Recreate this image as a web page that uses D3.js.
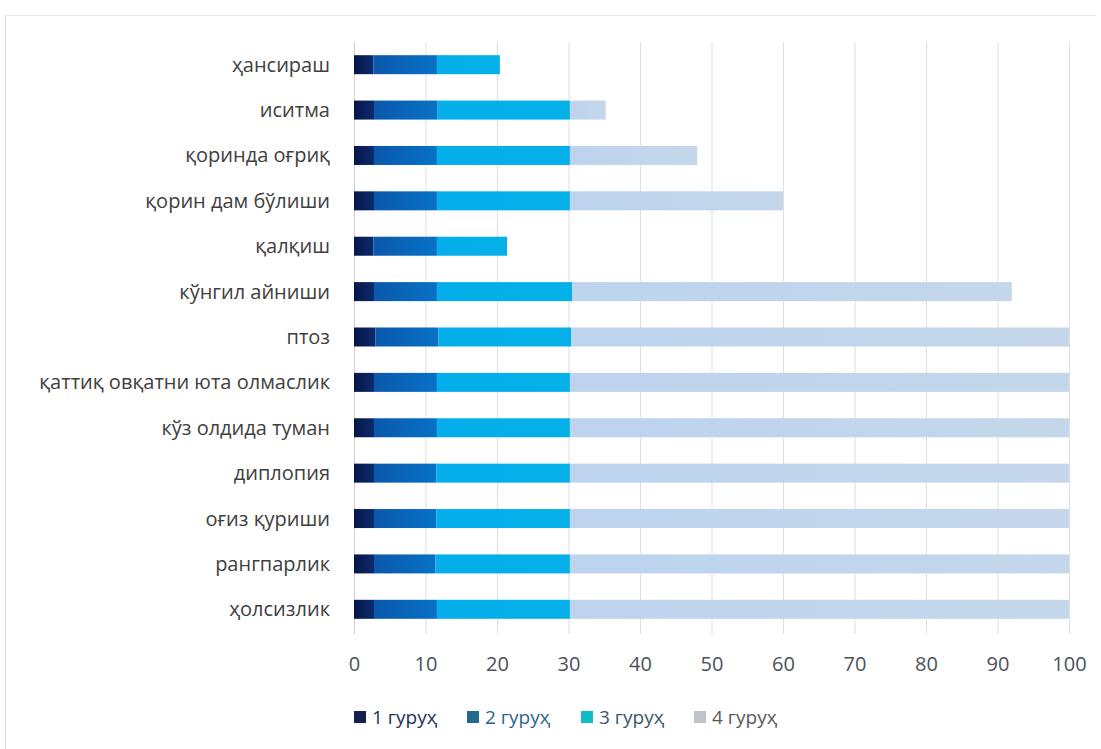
<!DOCTYPE html>
<html><head><meta charset="utf-8">
<script src="https://cdn.jsdelivr.net/npm/d3@7"></script>
<style>body{margin:0;background:#fff;} svg{display:block;}</style>
</head><body>
<svg id="chart" width="1101" height="749"></svg>
<script>
const categories = ["ҳансираш","иситма","қоринда оғриқ","қорин дам бўлиши","қалқиш","кўнгил айниши","птоз","қаттиқ овқатни юта олмаслик","кўз олдида туман","диплопия","оғиз қуриши","рангпарлик","ҳолсизлик"];
const seriesNames = ["1 гуруҳ","2 гуруҳ","3 гуруҳ","4 гуруҳ"];
const group1 = [2.7,2.8,2.8,2.8,2.7,2.8,3.0,2.8,2.8,2.8,2.8,2.8,2.8];
const group2 = [8.9,8.9,8.8,8.8,8.9,8.8,8.8,8.8,8.8,8.7,8.7,8.6,8.8];
const group3 = [8.8,18.5,18.6,18.6,9.8,18.9,18.6,18.6,18.6,18.7,18.7,18.8,18.6];
const group4 = [0,5.0,17.8,29.8,0,61.5,69.6,69.8,69.8,69.8,69.8,69.8,69.8];
const xTicks = [0,10,20,30,40,50,60,70,80,90,100];

const svg = d3.select("#chart");
const font = "'Open Sans', 'Noto Sans', sans-serif";
const margin = {left:354, right:32, top:42, bottom:117};
const W = 1101, H = 749;

// chart border (top and left edges visible)
svg.append("line").attr("x1",5).attr("x2",1096).attr("y1",15.5).attr("y2",15.5).attr("stroke","#e8e8e8");
svg.append("line").attr("x1",5.5).attr("x2",5.5).attr("y1",15).attr("y2",749).attr("stroke","#e0e0e0");

const x = d3.scaleLinear().domain([0,100]).range([margin.left, W - margin.right]);
const y = d3.scaleBand().domain(categories).range([margin.top, H - margin.bottom]).paddingInner(0.6).paddingOuter(0.3);

const data = categories.map((c,i)=>({cat:c, g1:group1[i], g2:group2[i], g3:group3[i], g4:group4[i]}));
const keys = ["g1","g2","g3","g4"];
const stack = d3.stack().keys(keys)(data);

// grid
svg.append("g").selectAll("line").data(xTicks).join("line")
  .attr("x1",d=>x(d)+0.5).attr("x2",d=>x(d)+0.5)
  .attr("y1",margin.top).attr("y2",H - margin.bottom+2)
  .attr("stroke",(d)=>d===0?"#cfcfcf":"#dcdfe6").attr("stroke-width",1);

// gradients
const defs = svg.append("defs");
const grads = [
  ["#07164a","#0b2a6e"],
  ["#0a58ac","#0872c6"],
  ["#04aeea","#05b0e8"],
  ["#bdd3ee","#c4d7ea"]
];
grads.forEach((g,i)=>{
  const lg = defs.append("linearGradient").attr("id","grad"+i).attr("x1","0").attr("x2","1").attr("y1","0").attr("y2","0");
  lg.append("stop").attr("offset","0").attr("stop-color",g[0]);
  lg.append("stop").attr("offset","1").attr("stop-color",g[1]);
});

const barH = 19;
svg.append("g").selectAll("g").data(stack).join("g")
  .attr("fill",(d,i)=>`url(#grad${i})`)
  .selectAll("rect").data(d=>d).join("rect")
  .attr("x",d=>x(d[0]))
  .attr("width",d=>Math.max(0,x(d[1])-x(d[0])))
  .attr("y",d=>y(d.data.cat)+y.bandwidth()/2-barH/2)
  .attr("height",barH);

// y labels
svg.append("g").selectAll("text").data(categories).join("text")
  .attr("x",margin.left-24).attr("y",d=>y(d)+y.bandwidth()/2)
  .attr("dy","0.35em").attr("text-anchor","end")
  .attr("font-family",font).attr("font-size",20).attr("fill","#404040")
  .text(d=>d);

// x axis labels
const xAxis = d3.axisBottom(x).tickValues(xTicks).tickSize(0).tickPadding(0);
const gx = svg.append("g").attr("transform",`translate(0,664)`).call(xAxis);
gx.select(".domain").remove();
gx.selectAll("text").attr("dy","0.35em").attr("font-family",font).attr("font-size",20).attr("fill","#4a525c");

// legend
const legColors = ["#14214f","#256a8a","#10bcc8","#c0c4c8"];
const legText = ["#24305a","#2a6688","#3a5866","#595959"];
const legX = [354,467,581,694];
const leg = svg.append("g").selectAll("g").data(seriesNames).join("g")
  .attr("transform",(d,i)=>`translate(${legX[i]},717)`);
leg.append("rect").attr("x",0).attr("y",-6).attr("width",12).attr("height",12).attr("fill",(d,i)=>legColors[i]);
leg.append("text").attr("x",18).attr("y",0).attr("dy","0.35em")
  .attr("font-family",font).attr("font-size",19).attr("fill",(d,i)=>legText[i]).text(d=>d);
</script>
</body></html>
